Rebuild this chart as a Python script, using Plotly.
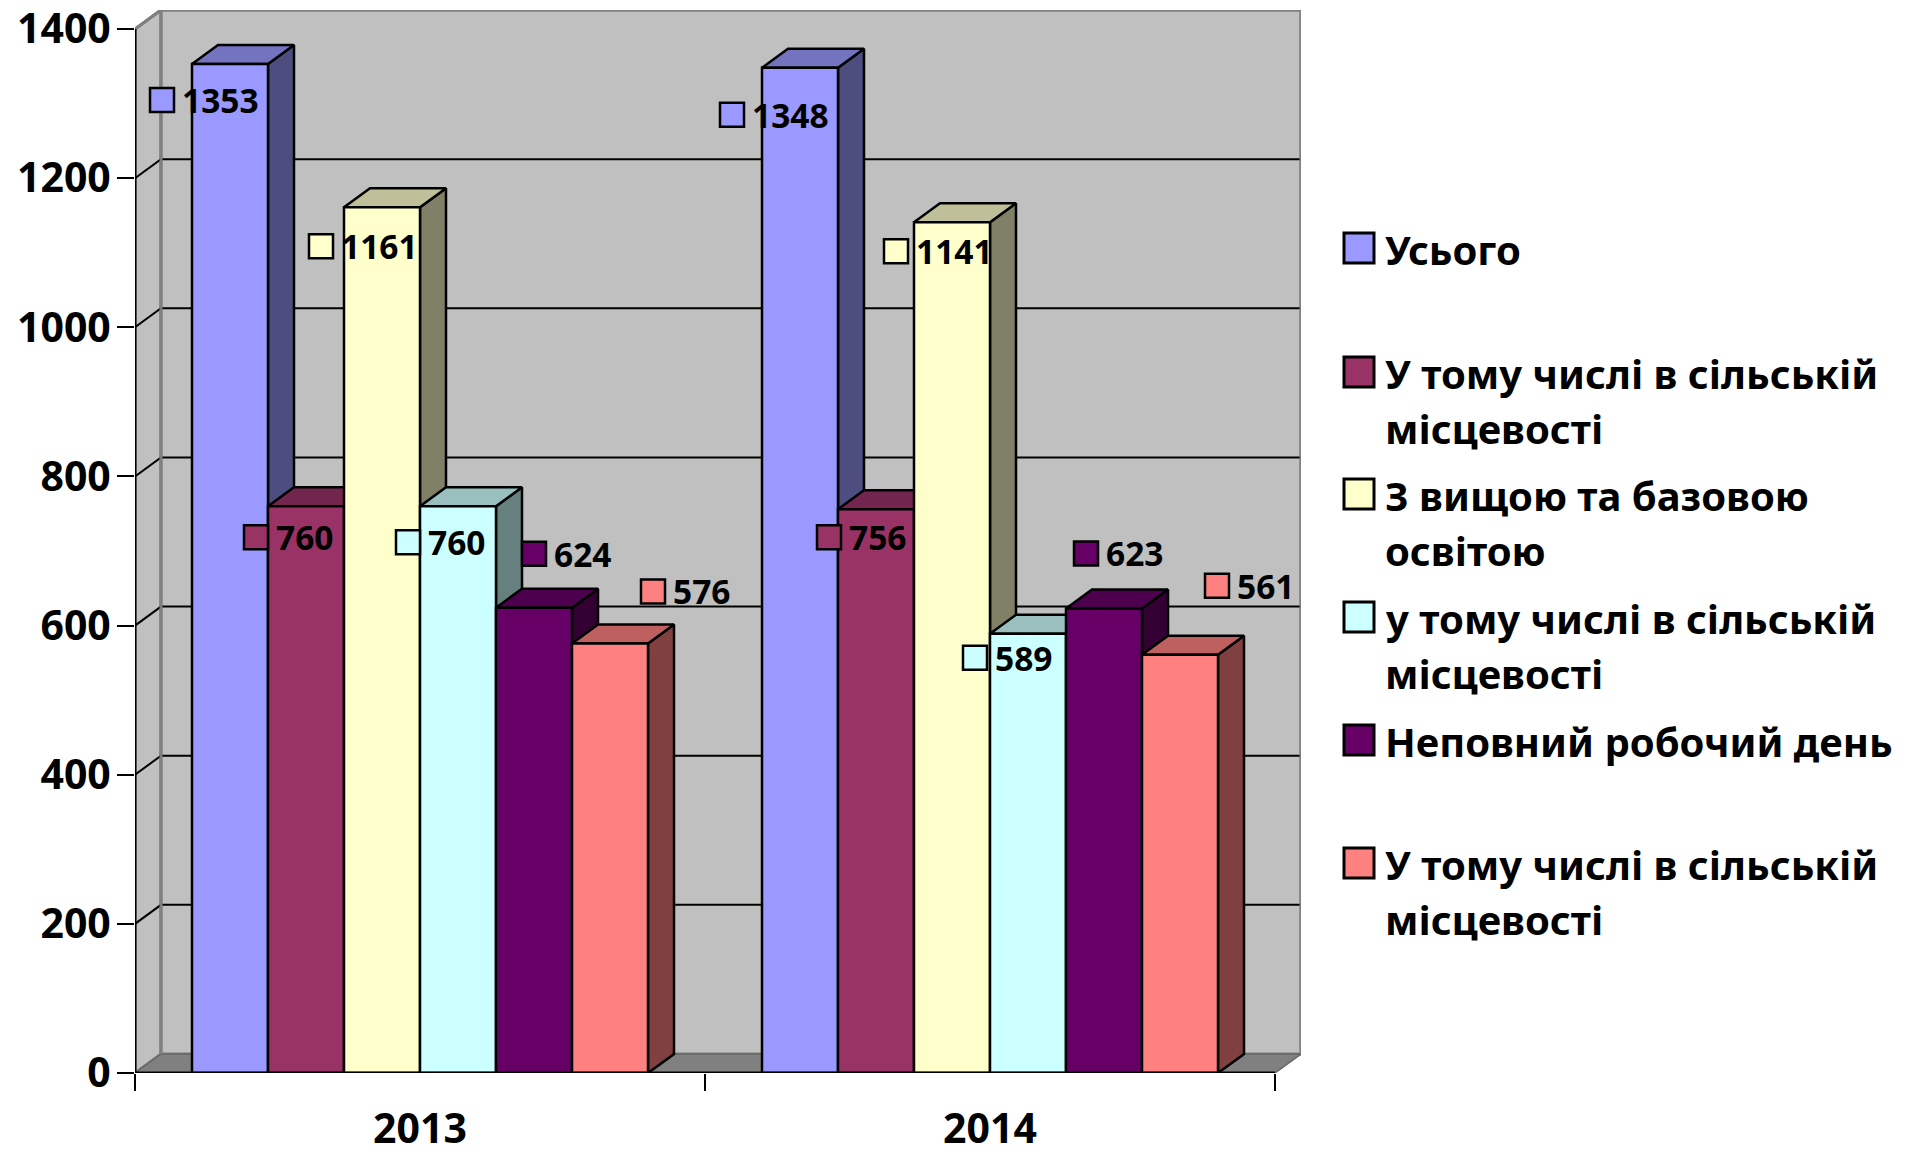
import plotly.graph_objects as go

years = ["2013", "2014"]
series_names = ["Усього", "У тому числі в сільській|місцевості", "З вищою та базовою|освітою",
                "у тому числі в сільській|місцевості", "Неповний робочий день", "У тому числі в сільській|місцевості"]
values_2013 = [1353, 760, 1161, 760, 624, 576]
values_2014 = [1348, 756, 1141, 589, 623, 561]
y_ticks = [0, 200, 400, 600, 800, 1000, 1200, 1400]
front_colors = ["#9999FF", "#993366", "#FFFFCC", "#CCFFFF", "#660066", "#FF8080"]
top_colors = ["#7373BF", "#73264D", "#BFBF99", "#99BFBF", "#4D004D", "#BF6060"]
side_colors = ["#4D4D80", "#4D1933", "#808066", "#668080", "#330033", "#804040"]
label_offsets_2013 = [(-68, 36), (-50, 31), (-61, 39), (-50, 36), (0, -54), (43, -52)]
label_offsets_2014 = [(-68, 47), (-47, 28), (-56, 29), (-53, 24), (-18, -55), (37, -69)]

W, H = 1922, 1154
L, R, T, B = 135, 1301, 10, 1073
FONT = "Noto Sans"
BAR_LINE = 2.5
bar_w = 0.8 / 6
dx = 2 * 26 / 1140
dy = 1400 * 19 / 1044
x_max = 2 + dx
y_max = 1400 + dy
GRID = "#000000"
WALL = "#C0C0C0"
EDGE = "#808080"

fig = go.Figure()


def poly(xs, ys, fill, line, width, z):
    fig.add_trace(go.Scatter(x=xs, y=ys, mode="lines", fill="toself", fillcolor=fill,
                             line=dict(color=line, width=width), hoverinfo="skip",
                             showlegend=False, cliponaxis=False, zorder=z))


# walls and floor
poly([0, dx, dx, 0, 0], [0, dy, y_max, 1400, 0], WALL, EDGE, 3, -3)
poly([dx, x_max, x_max, dx, dx], [dy, dy, y_max, y_max, dy], WALL, EDGE, 3, -3)
poly([0, 2, x_max, dx, 0], [0, 0, dy, dy, 0], "#808080", "#666666", 1.5, -3)

# gridlines
gx, gy = [], []
for v in y_ticks[1:]:
    gx += [0, dx, x_max, None]
    gy += [v, v + dy, v + dy, None]
fig.add_trace(go.Scatter(x=gx, y=gy, mode="lines", line=dict(color=GRID, width=2),
                         hoverinfo="skip", showlegend=False, zorder=-2))
# wall edges above grid ends
fig.add_trace(go.Scatter(x=[dx, dx, None, x_max, x_max, None, 0, dx, x_max], y=[dy, y_max, None, dy, y_max, None, 1400, y_max, y_max],
                         mode="lines", line=dict(color=EDGE, width=3), cliponaxis=False,
                         hoverinfo="skip", showlegend=False, zorder=-1))

# bars
for j in range(6):
    vals = [values_2013[j], values_2014[j]]
    sx, sy, tx, ty = [], [], [], []
    for i, v in enumerate(vals):
        x0 = i + 0.1 + j * bar_w
        x1 = x0 + bar_w
        sx += [x1, x1 + dx, x1 + dx, x1, x1, None]
        sy += [0, dy, v + dy, v, 0, None]
        tx += [x0, x0 + dx, x1 + dx, x1, x0, None]
        ty += [v, v + dy, v + dy, v, v, None]
    poly(sx, sy, side_colors[j], "#000000", BAR_LINE, 2 * j + 1)
    poly(tx, ty, top_colors[j], "#000000", BAR_LINE, 2 * j + 1)
    fig.add_trace(go.Bar(x=[0.5, 1.5], y=vals, width=bar_w, offset=-0.4 + j * bar_w,
                         name=series_names[j].replace("|", " "),
                         marker=dict(color=front_colors[j], line=dict(color="#000000", width=BAR_LINE)),
                         showlegend=False, cliponaxis=False, zorder=2 * j + 2))

# axis lines on top of the floor and walls
fig.add_trace(go.Scatter(x=[0, 0, 2], y=[1400, 0, 0], mode="lines", line=dict(color="#000000", width=3),
                         hoverinfo="skip", showlegend=False, cliponaxis=False, zorder=50))

# data labels with their legend keys
shapes, annotations = [], []
KEY = 12
for i, (vals, offs) in enumerate([(values_2013, label_offsets_2013), (values_2014, label_offsets_2014)]):
    for j, v in enumerate(vals):
        xc = i + 0.1 + (j + 0.5) * bar_w
        ox, oy = offs[j]
        shapes.append(dict(type="rect", xref="x", yref="y", xsizemode="pixel", ysizemode="pixel",
                           xanchor=xc, yanchor=v, x0=ox - KEY, x1=ox + KEY, y0=-oy - KEY, y1=-oy + KEY,
                           fillcolor=front_colors[j], line=dict(color="#000000", width=BAR_LINE), layer="above"))
        annotations.append(dict(x=xc, y=v, xref="x", yref="y", text=str(v), showarrow=False,
                                xanchor="left", yanchor="middle", xshift=ox + 18, yshift=-oy,
                                font=dict(family=FONT, size=33.5, color="#000000", weight="bold")))


# legend
def px(x):
    return (x - L) / (R - L)


def py(y):
    return (B - y) / (B - T)


legend_rows = [250, 374, 496, 619, 742, 865]
LINE = 55
for j, name in enumerate(series_names):
    yc = legend_rows[j]
    shapes.append(dict(type="rect", xref="paper", yref="paper", x0=px(1344), x1=px(1374),
                       y0=py(yc + 13), y1=py(yc - 17), fillcolor=front_colors[j],
                       line=dict(color="#000000", width=3), layer="above"))
    for k, part in enumerate(name.split("|")):
        annotations.append(dict(x=px(1383), y=py(yc - 1 + k * LINE), xref="paper", yref="paper", text=part,
                                showarrow=False, xanchor="left", yanchor="middle",
                                font=dict(family=FONT, size=40, color="#000000", weight="bold")))

fig.update_layout(
    width=W, height=H, autosize=False, barmode="overlay",
    margin=dict(l=L, r=W - R, t=T, b=H - B, pad=0),
    paper_bgcolor="#FFFFFF", plot_bgcolor="#FFFFFF", showlegend=False,
    shapes=shapes, annotations=annotations,
    xaxis=dict(range=[0, x_max], tickvals=[0.5, 1.5], ticktext=years, ticks="", showgrid=False,
               zeroline=False, showline=False, automargin=False,
               tickfont=dict(family=FONT, size=41, color="#000000", weight="bold"),
               ticklabelstandoff=28, ticklabeloverflow="allow",
               minor=dict(tickvals=[0, 1, 2], ticks="outside", ticklen=17, tickwidth=2,
                          tickcolor="#000000", showgrid=False)),
    yaxis=dict(range=[0, y_max], tickvals=y_ticks, ticks="outside", ticklen=17, tickwidth=2,
               tickcolor="#000000", showgrid=False, zeroline=False, showline=False, automargin=False,
               ticklabelstandoff=-2, ticklabeloverflow="allow",
               tickfont=dict(family=FONT, size=41, color="#000000", weight="bold")),
)

fig.write_html("out.html", config=dict(displayModeBar=False),
               post_script="document.body.style.margin='0';document.body.style.overflow='hidden';")
